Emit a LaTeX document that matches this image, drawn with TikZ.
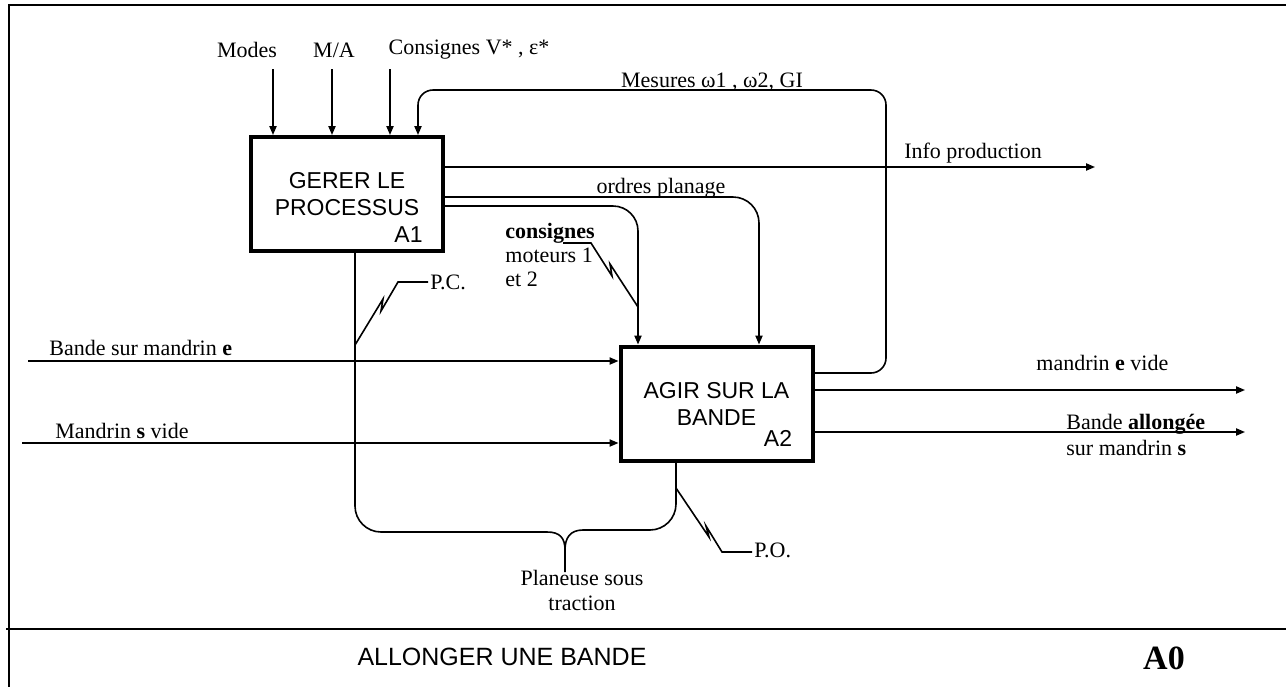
\documentclass[tikz,border=0pt]{standalone}
\usepackage{fontspec}
\setmainfont{Liberation Serif}
\setsansfont{Liberation Sans}
\usetikzlibrary{arrows.meta,calc}

\begin{document}
\begin{tikzpicture}[
  x=0.5pt,y=-0.5pt,
  activity/.style={draw,line width=2pt,minimum width=96pt,minimum height=57pt,align=center,
    inner sep=0pt,font=\sffamily\fontsize{11.5}{13.5}\selectfont},
  code/.style={font=\sffamily\fontsize{11.5}{13.5}\selectfont,inner sep=1pt},
  lab/.style={font=\fontsize{11}{12}\selectfont,inner sep=1pt,align=left},
  flow/.style={-{Triangle[length=4.5pt,width=3.6pt]},line width=0.8pt},
  link/.style={line width=0.8pt},
  frame/.style={line width=1.1pt}
]
\useasboundingbox (0,0) rectangle (1286,687);
\draw[frame] (1286,5) -- (9,5) -- (9,687);
\draw[frame] (6,629) -- (1286,629);

\node[activity] (gerer) at (347,194) {GERER LE\\PROCESSUS};
\node[code,anchor=south east] (codeA1) at ([xshift=-10pt,yshift=4pt]gerer.south east) {A1};
\node[activity] (agir) at (716.5,403.5) {AGIR SUR LA\\BANDE};
\node[code,anchor=south east] (codeA2) at ([xshift=-10pt,yshift=7pt]agir.south east) {A2};

% controles
\node[lab] (modes) at (247,50) {Modes};
\node[lab] (ma) at (334,50) {M/A};
\node[lab] (consV) at (469,50) {Consignes V* , ε*};
\coordinate (cModes) at (273,69);
\coordinate (cMA) at (332,69);
\coordinate (cCons) at (390,69);
\draw[flow] (cModes) -- (cModes |- gerer.north);
\draw[flow] (cMA) -- (cMA |- gerer.north);
\draw[flow] (cCons) -- (cCons |- gerer.north);

\node[lab] (mesures) at (712,82) {Mesures ω1 , ω2, GI};
\draw[flow,rounded corners=7.5pt] ([yshift=15.25pt]agir.east) -| (886,90) -| ([xshift=35.5pt]gerer.north);

\node[lab] (infoprod) at (973,153) {Info production};
\coordinate (oInfo) at (1095,167);
\draw[flow] ([yshift=13.5pt]gerer.east) -- (oInfo);

\node[lab] (ordres) at (661,188) {ordres planage};
\draw[flow,rounded corners=13pt] ([yshift=-1.5pt]gerer.east) -| ([xshift=21.25pt]agir.north);
\draw[flow,rounded corners=12.5pt] ([yshift=-6pt]gerer.east) -| ([xshift=-39.25pt]agir.north);

\node[lab,anchor=north west] (consM) at (503,221) {\textbf{consignes}\\moteurs 1\\et 2};
\coordinate (zCons) at (638,307);
\draw[link] (563,243) -- (591,243) -- (612,276) -- (610,264) -- (zCons);

% entrees et sorties
\node[lab,anchor=west] (bandeE) at (47,348) {Bande sur mandrin \textbf{e}};
\coordinate (iBande) at (28,361);
\draw[flow] (iBande) -- (iBande -| agir.west);
\node[lab,anchor=west] (mandrinS) at (53,431) {Mandrin \textbf{s} vide};
\coordinate (iMandrin) at (22,443);
\draw[flow] (iMandrin) -- (iMandrin -| agir.west);

\node[lab,anchor=west] (videE) at (1034,363) {mandrin \textbf{e} vide};
\coordinate (oVide) at (1245,390);
\draw[flow] ([yshift=6.75pt]agir.east) -- (oVide);
\node[lab,anchor=west,align=left,font=\fontsize{11}{13}\selectfont] (allongee) at (1064,435) {Bande \textbf{allongée}\\sur mandrin \textbf{s}};
\coordinate (oBande) at (1245,432);
\draw[flow] ([yshift=-14.25pt]agir.east) -- (oBande);

% mecanismes
\node[lab,align=center,font=\fontsize{11}{12.5}\selectfont] (planeuse) at (582,590) {Planeuse sous\\traction};
\coordinate (mStem) at (565,572);
\draw[link,rounded corners=13pt] ([xshift=4pt]gerer.south) |- (547,532);
\draw[link] (547,532) .. controls (560,532) and (565,538) .. (565,550) -- (mStem);
\draw[link,rounded corners=13pt] ([xshift=-20.25pt]agir.south) |- (583,530);
\draw[link] (583,530) .. controls (570,530) and (565,538) .. (565,550);

\node[lab,anchor=west] (pc) at (428,282) {P.C.};
\draw[link] (355,345) -- (383,299) -- (381,311) -- (398,282) -- (pc.west);
\node[lab,anchor=west] (po) at (752,550) {P.O.};
\draw[link] (676,488) -- (709,537) -- (706,526) -- (722,552) -- (po.west |- 0,552);

% cartouche
\node[font=\sffamily\fontsize{12.5}{15}\selectfont] (titre) at (502,657) {ALLONGER UNE BANDE};
\node[font=\bfseries\fontsize{17}{20}\selectfont] (numero) at (1164,658) {A0};
\end{tikzpicture}
\end{document}
